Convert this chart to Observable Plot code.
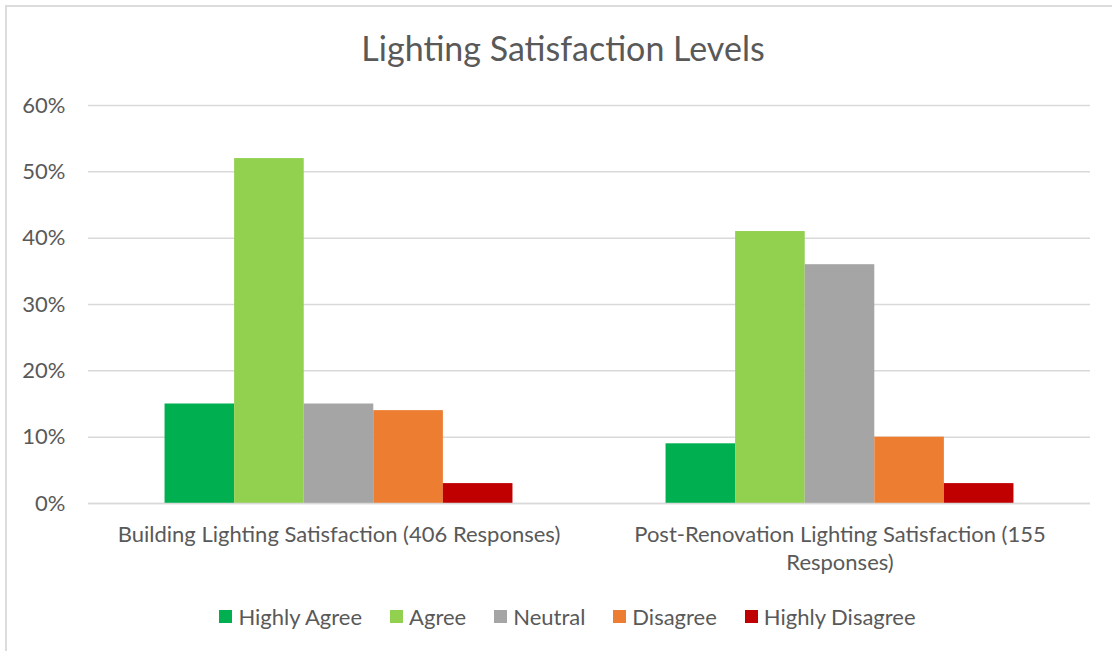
<!DOCTYPE html>
<html>
<head>
<meta charset="utf-8">
<script src="https://cdn.jsdelivr.net/npm/d3@7"></script>
<script src="https://cdn.jsdelivr.net/npm/@observablehq/plot@0.6"></script>
<style>
  html, body { margin: 0; padding: 0; background: #fff; }
  #wrap { position: relative; width: 1112px; height: 651px; overflow: hidden; background: #fff; }
  #border { position: absolute; left: 5px; top: 5px; width: 1130px; height: 670px; border: 2px solid #dcdcdc; }
  #title { position: absolute; left: 0; top: 28px; width: 1126px; text-align: center; font-family: Lato, sans-serif; font-size: 34px; line-height: 40px; color: #595959; }
  #chart { position: absolute; left: 0; top: 80px; }
  #legend { position: absolute; left: 0; top: 602px; width: 1135px; }
  .lg-swatches { font-family: Lato, sans-serif; font-size: 22px; color: #595959; display: flex; justify-content: center; margin: 0; min-height: 28px; }
  .lg-swatch { margin-right: 28px; }
  .lg-swatch:last-child { margin-right: 0; }
  .lg-swatch > svg { margin-right: 6px; }
</style>
</head>
<body>
<div id="wrap">
  <div id="border"></div>
  <div id="title">Lighting Satisfaction Levels</div>
  <div id="chart"></div>
  <div id="legend"></div>
</div>
<script>
const groups = ["Building Lighting Satisfaction (406 Responses)", "Post-Renovation Lighting Satisfaction (155 Responses)"];
const levels = ["Highly Agree", "Agree", "Neutral", "Disagree", "Highly Disagree"];
const building = [0.15, 0.52, 0.15, 0.14, 0.03];
const postRenovation = [0.09, 0.41, 0.36, 0.10, 0.03];
const colors = ["#00b050", "#92d050", "#a5a5a5", "#ed7d31", "#c00000"];
const yTicks = [0, 0.1, 0.2, 0.3, 0.4, 0.5, 0.6];

const data = levels.flatMap((lv, i) => [
  {group: groups[0], level: lv, value: building[i]},
  {group: groups[1], level: lv, value: postRenovation[i]}
]);

const pct = d3.format(".0%");

const chart = Plot.plot({
  width: 1112,
  height: 513,
  marginTop: 25,
  marginBottom: 90,
  marginLeft: 88,
  marginRight: 22,
  style: {fontFamily: "Lato, sans-serif", fontSize: "22px", color: "#595959", background: "transparent", overflow: "visible"},
  fx: {domain: groups, padding: 0, round: false, label: null},
  x: {domain: levels, paddingInner: 0, paddingOuter: 1.1, round: false, axis: null},
  y: {domain: [0, 0.6], label: null},
  color: {type: "ordinal", domain: levels, range: colors},
  marks: [
    Plot.gridY(yTicks, {stroke: "#d9d9d9", strokeOpacity: 1, strokeWidth: 1.5}),
    Plot.axisY(yTicks, {tickSize: 0, tickPadding: 23, tickFormat: pct, fontSize: 22, fill: "#595959", label: null}),
    Plot.axisFx({anchor: "bottom", tickSize: 0, tickPadding: 18, lineWidth: 25, lineHeight: 1.3, fontSize: 22, fill: "#595959", label: null}),
    Plot.barY(data, {fx: "group", x: "level", y: "value", fill: "level"}),
    Plot.ruleY([0], {stroke: "#d9d9d9", strokeWidth: 1.5})
  ]
});
document.getElementById("chart").appendChild(chart);

const legend = Plot.legend({
  color: {type: "ordinal", domain: levels, range: colors},
  swatchSize: 13,
  className: "lg"
});
document.getElementById("legend").appendChild(legend);
</script>
</body>
</html>
